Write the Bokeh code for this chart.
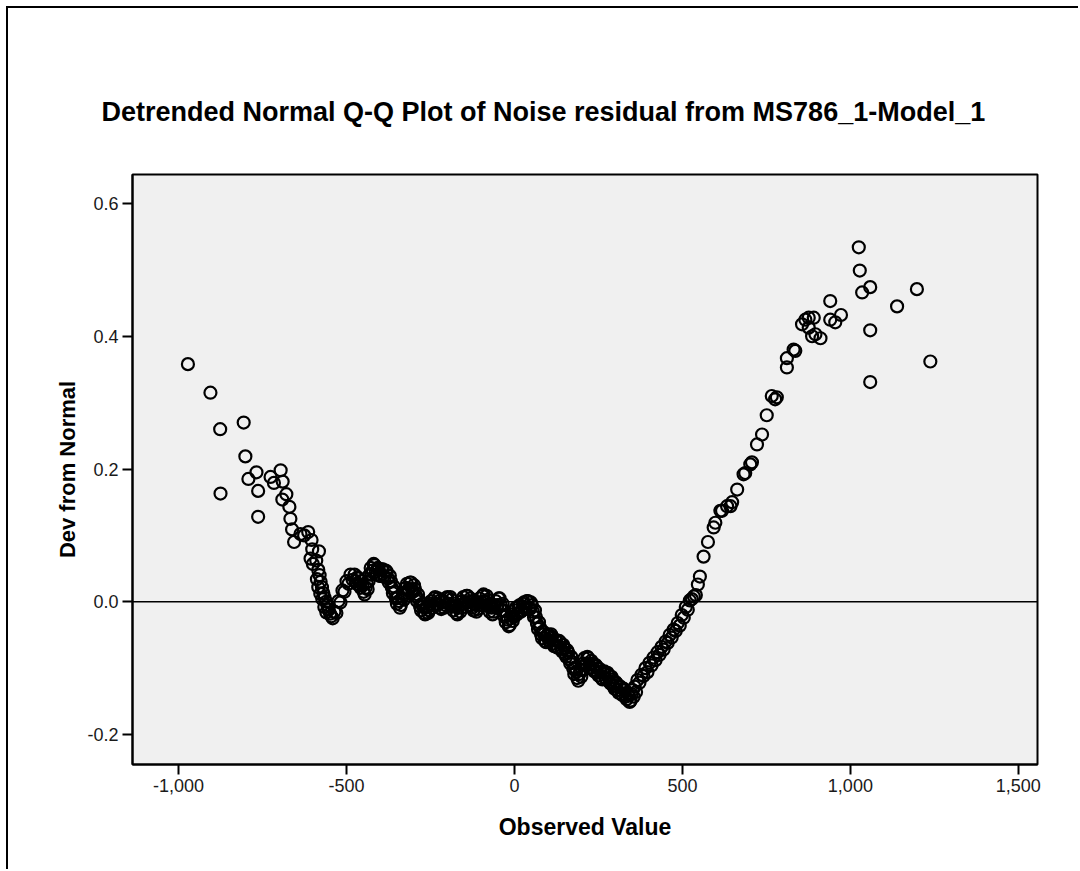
from bokeh.plotting import figure
from bokeh.models import ColumnDataSource, Span, NumeralTickFormatter, FixedTicker, Range1d, Title
from bokeh.embed import file_html
from bokeh.resources import INLINE

# ---------------- data ----------------
title_text = "Detrended Normal Q-Q Plot of Noise residual from MS786_1-Model_1"
x_label = "Observed Value"
y_label = "Dev from Normal"
x_ticks = [-1000, -500, 0, 500, 1000, 1500]
y_ticks = [-0.2, 0.0, 0.2, 0.4, 0.6]

left_x = [-972, -905, -876, -875, -806, -801, -792, -768, -763, -763, -726, -716,
          -696, -690, -691, -679, -670, -667, -662, -656, -637, -626, -614, -604,
          -602, -582, -607, -600, -590, -584, -580, -577, -573, -569, -565, -561,
          -557, -553, -549, -545, -541, -588, -584, -578, -572, -566, -560]
left_y = [0.358, 0.315, 0.260, 0.163, 0.270, 0.219, 0.185, 0.195, 0.167, 0.128, 0.188, 0.179,
          0.198, 0.181, 0.154, 0.162, 0.143, 0.125, 0.109, 0.090, 0.102, 0.100, 0.105, 0.093,
          0.079, 0.076, 0.065, 0.057, 0.062, 0.048, 0.040, 0.030, 0.022, 0.013, 0.006, 0.000,
          -0.005, -0.012, -0.018, -0.022, -0.025, 0.034, 0.022, 0.012, 0.004, -0.008, -0.016]

band_x = [-536, -530, -524, -518, -512, -506, -500, -494, -488, -482, -476, -470, -464, -458,
          -452, -446, -440, -434, -428, -422, -416, -410, -404, -398, -392, -386, -380, -374,
          -368, -362, -356, -350, -344, -338, -332, -326, -320, -314, -308, -302, -296, -290,
          -284, -278, -272, -266, -260, -254, -248, -242, -236, -230, -224, -218, -212, -206,
          -200, -194, -188, -182, -176, -170, -164, -158, -152, -146, -140, -134, -128, -122,
          -116, -110, -104, -98, -92, -86, -80, -74, -68, -62, -56, -50, -44, -38,
          -32, -26, -20, -14, -8, -2, 4, 10, 16, 22, 28, 34, 40, 46,
          52, 58, 64, 70, 76, 82, 88, 94, 100, 106, 112, 118, 124, 130,
          136, 142, 148, 154, 160, 166, 172, 178, 184, 190, 196, 202, 208, 214,
          220, 226, 232, 238, 244, 250, 256, 262, 268, 274, 280, 286, 292, 298,
          304, 310, 316, 322, 328, 334, 340, 346, 352]
band_y = [-0.015, -0.017, 0.001, -0.001, 0.017, 0.015, 0.031, 0.027, 0.041, 0.033, 0.041, 0.027, 0.035, 0.021,
          0.025, 0.011, 0.029, 0.031, 0.051, 0.047, 0.055, 0.041, 0.049, 0.039, 0.049, 0.037, 0.045, 0.029,
          0.031, 0.013, 0.015, -0.003, 0.001, -0.005, 0.013, 0.011, 0.027, 0.019, 0.029, 0.015, 0.019, 0.001,
          0.003, -0.013, -0.007, -0.019, -0.007, -0.013, 0.001, -0.005, 0.007, -0.005, 0.001, -0.011, 0.001, -0.005,
          0.007, -0.003, 0.003, -0.013, -0.007, -0.019, -0.005, -0.009, 0.007, -0.001, 0.009, -0.005, 0.001, -0.013,
          -0.005, -0.011, 0.005, -0.001, 0.011, -0.001, 0.003, -0.015, -0.009, -0.015, 0.001, -0.005, 0.005, -0.013,
          -0.013, -0.031, -0.027, -0.035, -0.019, -0.023, -0.009, -0.017, -0.005, -0.013, -0.001, -0.009, 0.001, -0.011,
          -0.005, -0.023, -0.023, -0.041, -0.039, -0.055, -0.049, -0.061, -0.049, -0.059, -0.053, -0.067, -0.059, -0.069,
          -0.061, -0.075, -0.069, -0.083, -0.077, -0.093, -0.091, -0.109, -0.105, -0.119, -0.103, -0.103, -0.085, -0.093,
          -0.085, -0.099, -0.093, -0.105, -0.097, -0.111, -0.105, -0.117, -0.105, -0.117, -0.111, -0.123, -0.117, -0.131,
          -0.123, -0.137, -0.129, -0.141, -0.133, -0.147, -0.141, -0.149, -0.133]

# second, interleaved run of observations inside the dense band
band2_x = [-473, -467, -461, -455, -449, -443, -437, -431, -425, -419, -413, -407, -401, -395,
           -389, -383, -377, -371, -365, -359, -353, -347, -341, -335, -329, -323, -317, -311,
           -305, -299, -293, -287, -281, -275, -269, -263, -257, -251, -245, -239, -233, -227,
           -221, -215, -209, -203, -197, -191, -185, -179, -173, -167, -161, -155, -149, -143,
           -137, -131, -125, -119, -113, -107, -101, -95, -89, -83, -77, -71, -65, -59,
           -53, -47, -41, -35, -29, -23, -17, -11, -5, 1, 7, 13, 19, 25,
           31, 37, 43, 49, 55, 61, 67, 73, 79, 85, 91, 97, 103, 109,
           115, 121, 127, 133, 139, 145, 151, 157, 163, 169, 175, 181, 187, 193,
           199, 205, 211, 217, 223, 229, 235, 241, 247, 253, 259, 265, 271, 277,
           283, 289, 295, 301, 307, 313, 319, 325, 331, 337, 343, 349, 355]
band2_y = [0.031, 0.037, 0.025, 0.031, 0.015, 0.021, 0.019, 0.041, 0.041, 0.057, 0.045, 0.051, 0.039, 0.049,
           0.039, 0.047, 0.035, 0.039, 0.021, 0.023, 0.005, 0.007, -0.009, 0.005, 0.003, 0.021, 0.017, 0.029,
           0.019, 0.025, 0.009, 0.011, -0.007, -0.003, -0.017, -0.009, -0.017, -0.003, -0.009, 0.005, -0.003, 0.005,
           -0.009, -0.001, -0.009, 0.005, -0.003, 0.007, -0.007, -0.003, -0.017, -0.009, -0.015, 0.001, -0.003, 0.009,
           -0.001, 0.005, -0.009, -0.003, -0.015, -0.001, -0.005, 0.009, 0.001, 0.009, -0.007, -0.005, -0.019, -0.005,
           -0.009, 0.005, -0.005, -0.003, -0.023, -0.021, -0.037, -0.025, -0.029, -0.013, -0.019, -0.007, -0.015, -0.003,
           -0.011, 0.001, -0.009, -0.001, -0.015, -0.013, -0.033, -0.031, -0.049, -0.045, -0.059, -0.051, -0.059, -0.049,
           -0.063, -0.057, -0.069, -0.059, -0.071, -0.065, -0.079, -0.073, -0.087, -0.083, -0.101, -0.099, -0.115, -0.109,
           -0.113, -0.093, -0.095, -0.083, -0.095, -0.089, -0.103, -0.095, -0.107, -0.101, -0.115, -0.107, -0.115, -0.107,
           -0.121, -0.113, -0.127, -0.121, -0.133, -0.127, -0.139, -0.131, -0.143, -0.137, -0.151, -0.139, -0.143]

rise_x = [358, 362, 366, 372, 378, 384, 390, 396, 402, 408, 414, 420, 426, 432, 438, 444, 450,
          456, 462, 468, 474, 480, 486, 492, 498, 504, 510, 516, 522, 528, 534, 540, 546, 552]
rise_y = [-0.128, -0.136, -0.118, -0.122, -0.110, -0.112, -0.100, -0.106, -0.092, -0.096, -0.084,
          -0.088, -0.076, -0.080, -0.068, -0.072, -0.060, -0.062, -0.050, -0.054, -0.042, -0.044,
          -0.032, -0.036, -0.020, -0.024, -0.008, -0.012, 0.002, 0.004, 0.008, 0.010, 0.026, 0.038]

right_x = [563, 576, 593, 598, 613, 618, 633, 643, 648, 663, 682, 687, 702, 707, 722, 737, 751,
           766, 776, 781, 811, 811, 831, 836, 856, 866, 876, 891, 876, 886, 896, 911, 940, 940,
           955, 972, 1025, 1028, 1035, 1059, 1059, 1059, 1139, 1198, 1238]
right_y = [0.068, 0.090, 0.112, 0.119, 0.137, 0.137, 0.144, 0.144, 0.150, 0.169, 0.192, 0.194, 0.207,
           0.210, 0.237, 0.252, 0.281, 0.310, 0.305, 0.308, 0.353, 0.367, 0.380, 0.378, 0.418, 0.425,
           0.428, 0.428, 0.413, 0.400, 0.403, 0.397, 0.453, 0.425, 0.421, 0.432, 0.534, 0.499, 0.466,
           0.474, 0.409, 0.331, 0.445, 0.471, 0.362]

# ---------------- chart ----------------
src = ColumnDataSource(dict(
    x=left_x + band_x + band2_x + rise_x + right_x,
    y=left_y + band_y + band2_y + rise_y + right_y,
))

FONT = "Liberation Sans"

p = figure(width=1072, height=863, output_backend="svg", toolbar_location=None,
           x_range=Range1d(-1137, 1557), y_range=Range1d(-0.2452, 0.6437),
           min_border_left=124, min_border_right=43, min_border_top=166, min_border_bottom=107,
           background_fill_color="#F0F0F0", border_fill_color="white")

p.title = Title(text=title_text, align="left", offset=-31, standoff=95,
                text_font=FONT, text_font_size="27px", text_font_style="bold",
                text_color="black")

p.outline_line_color = "black"
p.outline_line_width = 2
p.xgrid.visible = False
p.ygrid.visible = False

p.xaxis.ticker = FixedTicker(ticks=x_ticks)
p.xaxis.formatter = NumeralTickFormatter(format="0,0")
p.yaxis.ticker = FixedTicker(ticks=y_ticks)
p.yaxis.formatter = NumeralTickFormatter(format="0.0")
p.xaxis.axis_label = x_label
p.yaxis.axis_label = y_label

for ax in (p.xaxis, p.yaxis):
    ax.axis_line_color = "black"
    ax.axis_line_width = 2
    ax.major_tick_line_color = "black"
    ax.major_tick_line_width = 2
    ax.major_tick_in = 0
    ax.major_tick_out = 10
    ax.minor_tick_line_color = None
    ax.major_label_text_font = FONT
    ax.major_label_text_font_size = "18px"
    ax.major_label_text_color = "#1a1a1a"
    ax.major_label_standoff = 4
    ax.axis_label_text_font = FONT
    ax.axis_label_text_font_style = "bold"
    ax.axis_label_text_color = "black"

p.xaxis.axis_label_text_font_size = "23px"
p.yaxis.axis_label_text_font_size = "22px"
p.xaxis.axis_label_standoff = 19
p.yaxis.axis_label_standoff = 4

p.add_layout(Span(location=0, dimension="width", line_color="black", line_width=1.5))

p.scatter("x", "y", source=src, marker="circle", size=12, fill_color=None,
          line_color="black", line_width=2.2)

p.styles = {"margin-left": "8px", "margin-top": "8px",
            "box-shadow": "-2px -2px 0 0 black"}

open("out.html", "w").write(file_html(p, INLINE))
